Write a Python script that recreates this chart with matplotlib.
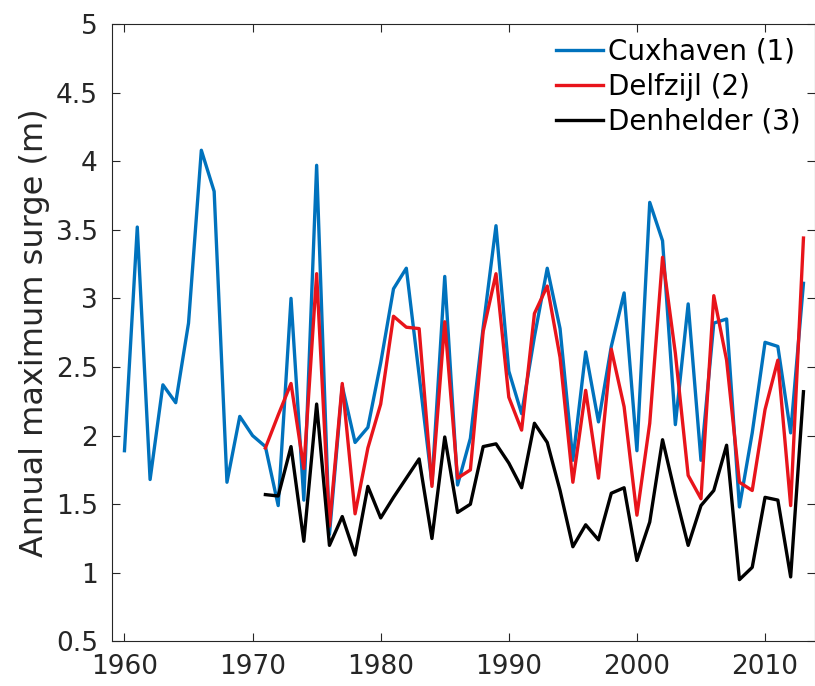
import numpy as np
import matplotlib.pyplot as plt

years_cux = list(range(1960, 2014))
cuxhaven = [1.89, 3.52, 1.68, 2.37, 2.24, 2.82, 4.08, 3.78, 1.66, 2.14,
            2.00, 1.92, 1.49, 3.00, 1.53, 3.97, 1.28, 2.36, 1.95, 2.06,
            2.53, 3.07, 3.22, 2.44, 1.65, 3.16, 1.64, 1.98, 2.79, 3.53,
            2.47, 2.16, 2.72, 3.22, 2.78, 1.82, 2.61, 2.10, 2.65, 3.04,
            1.89, 3.70, 3.42, 2.08, 2.96, 1.82, 2.82, 2.85, 1.48, 2.02,
            2.68, 2.65, 2.02, 3.11]

years_dz = list(range(1971, 2014))
delfzijl = [1.91, 2.15, 2.38, 1.76, 3.18, 1.34, 2.38, 1.43, 1.91, 2.23,
            2.87, 2.79, 2.78, 1.63, 2.83, 1.69, 1.75, 2.76, 3.18, 2.28,
            2.04, 2.89, 3.09, 2.57, 1.66, 2.33, 1.69, 2.63, 2.21, 1.42,
            2.09, 3.30, 2.60, 1.71, 1.54, 3.02, 2.55, 1.66, 1.60, 2.19,
            2.55, 1.49, 3.44]

years_dh = list(range(1971, 2014))
denhelder = [1.57, 1.56, 1.92, 1.23, 2.23, 1.20, 1.41, 1.13, 1.63, 1.40,
             1.55, 1.69, 1.83, 1.25, 1.99, 1.44, 1.50, 1.92, 1.94, 1.80,
             1.62, 2.09, 1.95, 1.60, 1.19, 1.35, 1.24, 1.58, 1.62, 1.09,
             1.37, 1.97, 1.57, 1.20, 1.49, 1.60, 1.93, 0.95, 1.04, 1.55,
             1.53, 0.97, 2.32]

fig = plt.figure(figsize=(8.15, 6.86), dpi=100)
ax = fig.add_axes([0.137, 0.065, 0.863, 0.900])

ax.plot(years_cux, cuxhaven, color='#0072BD', lw=2.4, label='Cuxhaven (1)')
ax.plot(years_dz, delfzijl, color='#E8141B', lw=2.4, label='Delfzijl (2)')
ax.plot(years_dh, denhelder, color='black', lw=2.4, label='Denhelder (3)')

ax.set_xlim(1959, 2013.9)
ax.set_ylim(0.5, 5)
ax.set_xticks([1960, 1970, 1980, 1990, 2000, 2010])
ax.set_yticks(np.arange(0.5, 5.01, 0.5))
ax.set_yticklabels(['0.5', '1', '1.5', '2', '2.5', '3', '3.5', '4', '4.5', '5'])

ax.tick_params(direction='in', length=6, width=0.8, colors='#262626',
               labelsize=19, top=True, right=True, labelcolor='#262626')
ax.tick_params(axis='x', pad=9)
ax.tick_params(axis='y', pad=10)
for s in ax.spines.values():
    s.set_color('#262626')
    s.set_linewidth(0.8)

ax.set_ylabel('Annual maximum surge (m)', fontsize=23, color='#262626', labelpad=4)

ax.legend(loc='upper right', frameon=False, fontsize=20, handlelength=1.7,
          handletextpad=0.2, labelspacing=0.25, borderaxespad=0.1)

fig.savefig('out.png', dpi=100)
